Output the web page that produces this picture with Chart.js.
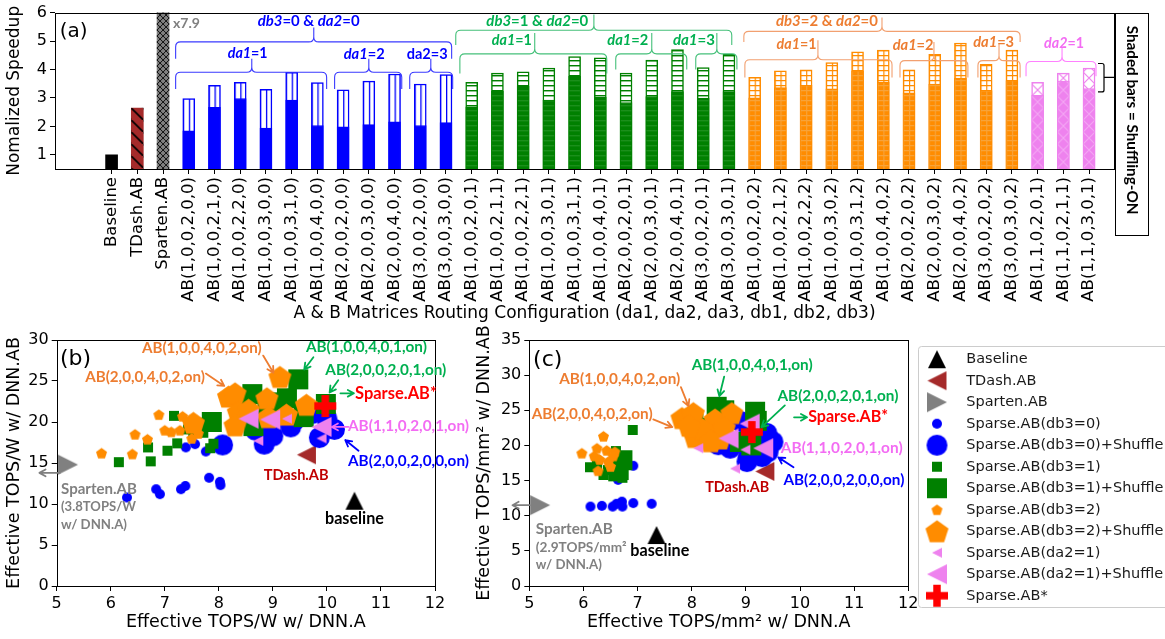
<!DOCTYPE html>
<html>
<head>
<meta charset="utf-8">
<title>Sparse.AB speedup and efficiency</title>
<script src="https://cdn.jsdelivr.net/npm/chart.js@4.4.1/dist/chart.umd.min.js"></script>
<style>
  html, body { margin:0; padding:0; background:#ffffff; width:1165px; height:639px; overflow:hidden; position:relative; }
  canvas { position:absolute; display:block; }
</style>
</head>
<body>
<canvas id="chartA" width="1165" height="330" style="left:0px;top:0px;width:1165px;height:330px;"></canvas>
<canvas id="chartB" width="470" height="319" style="left:0px;top:320px;width:470px;height:319px;"></canvas>
<canvas id="chartC" width="455" height="319" style="left:470px;top:320px;width:455px;height:319px;"></canvas>
<canvas id="chartL" width="300" height="275" style="left:908px;top:340px;width:300px;height:275px;"></canvas>
<script>
// ================= DATA: (a) normalized speedup =================
const refNames = ['Baseline', 'TDash.AB', 'Sparten.AB'];
const refSpeedup = [1.0, 2.64, 7.9];

const configNames = [
  'AB(1,0,0,2,0,0)','AB(1,0,0,2,1,0)','AB(1,0,0,2,2,0)','AB(1,0,0,3,0,0)','AB(1,0,0,3,1,0)','AB(1,0,0,4,0,0)',
  'AB(2,0,0,2,0,0)','AB(2,0,0,3,0,0)','AB(2,0,0,4,0,0)','AB(3,0,0,2,0,0)','AB(3,0,0,3,0,0)',
  'AB(1,0,0,2,0,1)','AB(1,0,0,2,1,1)','AB(1,0,0,2,2,1)','AB(1,0,0,3,0,1)','AB(1,0,0,3,1,1)','AB(1,0,0,4,0,1)',
  'AB(2,0,0,2,0,1)','AB(2,0,0,3,0,1)','AB(2,0,0,4,0,1)','AB(3,0,0,2,0,1)','AB(3,0,0,3,0,1)',
  'AB(1,0,0,2,0,2)','AB(1,0,0,2,1,2)','AB(1,0,0,2,2,2)','AB(1,0,0,3,0,2)','AB(1,0,0,3,1,2)','AB(1,0,0,4,0,2)',
  'AB(2,0,0,2,0,2)','AB(2,0,0,3,0,2)','AB(2,0,0,4,0,2)','AB(3,0,0,2,0,2)','AB(3,0,0,3,0,2)',
  'AB(1,1,0,2,0,1)','AB(1,1,0,2,1,1)','AB(1,1,0,3,0,1)'
];
const configGroup = [
  'db3=0','db3=0','db3=0','db3=0','db3=0','db3=0','db3=0','db3=0','db3=0','db3=0','db3=0',
  'db3=1','db3=1','db3=1','db3=1','db3=1','db3=1','db3=1','db3=1','db3=1','db3=1','db3=1',
  'db3=2','db3=2','db3=2','db3=2','db3=2','db3=2','db3=2','db3=2','db3=2','db3=2','db3=2',
  'da2=1','da2=1','da2=1'
];
const speedupNoShuffle = [
  1.84, 2.67, 2.98, 1.94, 2.92, 2.03, 1.98, 2.06, 2.16, 2.03, 2.13,
  2.69, 3.24, 3.41, 2.92, 3.76, 3.03, 2.84, 3.05, 3.22, 2.99, 3.22,
  3.00, 3.36, 3.44, 3.32, 3.95, 3.55, 3.18, 3.49, 3.70, 3.26, 3.61,
  3.09, 3.59, 3.33
];
const speedupShuffle = [
  2.98, 3.44, 3.55, 3.30, 3.90, 3.54, 3.28, 3.59, 3.84, 3.49, 3.82,
  3.55, 3.87, 3.92, 4.05, 4.45, 4.41, 3.87, 4.33, 4.70, 4.07, 4.53,
  3.72, 3.95, 3.99, 4.24, 4.62, 4.68, 3.99, 4.53, 4.93, 4.18, 4.68,
  3.55, 3.87, 4.05
];
const speedupTicks = [1, 2, 3, 4, 5, 6];

// ================= DATA: (b) TOPS/W, (c) TOPS/mm2 =================
const legendLabels = [
  'Baseline', 'TDash.AB', 'Sparten.AB',
  'Sparse.AB(db3=0)', 'Sparse.AB(db3=0)+Shuffle',
  'Sparse.AB(db3=1)', 'Sparse.AB(db3=1)+Shuffle',
  'Sparse.AB(db3=2)', 'Sparse.AB(db3=2)+Shuffle',
  'Sparse.AB(da2=1)', 'Sparse.AB(da2=1)+Shuffle',
  'Sparse.AB*'
];

const baselineB = [[10.51, 10.4]];
const tdashB = [[9.62, 16.0]];
const spartenB = [[5.21, 14.8]];
const db3_0_B = [[6.30,10.8],[6.84,11.8],[6.91,11.2],[7.30,11.8],[7.38,12.2],[7.82,13.2],[8.02,12.7],[8.03,12.3],[7.39,16.9],[7.56,17.3],[7.76,16.4]];
const db3_0_shuf_B = [[8.07,17.2],[8.68,19.0],[8.84,17.3],[9.00,18.3],[8.95,19.6],[9.33,19.4],[9.40,20.2],[9.72,21.0],[9.86,18.1],[10.14,19.1],[10.0,20.4]];
const db3_1_B = [[6.15,15.1],[6.74,15.2],[6.69,16.9],[7.05,16.5],[7.23,17.4],[7.17,20.75],[7.84,16.8],[7.90,17.35],[7.43,19.1],[8.70,20.6],[9.50,21.3]];
const db3_1_shuf_B = [[7.87,20.0],[7.62,19.3],[8.64,19.5],[8.62,23.4],[8.50,22.3],[9.13,21.1],[9.26,22.9],[9.47,25.2],[9.57,20.6],[9.98,22.2],[8.90,22.4]];
const db3_2_B = [[5.83,16.2],[6.40,16.1],[6.45,18.5],[6.68,17.9],[6.89,20.9],[7.00,19.0],[7.12,18.8],[7.28,19.0],[7.33,20.7],[7.50,18.0],[7.62,18.6]];
const db3_2_shuf_B = [[7.53,19.9],[8.18,23.1],[8.30,23.5],[8.36,21.2],[8.30,19.6],[8.55,21.5],[8.89,22.9],[9.13,25.5],[9.25,20.9],[9.62,22.1],[8.92,20.6]];
const da2_1_B = [[8.73,17.7],[9.90,18.0],[9.26,20.4]];
const da2_1_shuf_B = [[8.55,20.4],[8.95,20.3],[9.90,19.4]];
const sparseStarB = [[9.97,21.95]];

const baselineC = [[7.35, 7.25]];
const tdashC = [[9.35, 16.3]];
const spartenC = [[5.20, 11.5]];
const db3_0_C = [[6.13,11.3],[6.34,11.4],[6.54,11.3],[6.61,11.7],[6.71,12.0],[6.72,11.3],[6.92,11.8],[7.26,11.7],[6.92,17.1],[6.64,15.1],[6.71,16.5]];
const db3_0_shuf_C = [[9.02,17.7],[9.05,18.5],[8.71,19.6],[8.49,20.1],[9.41,19.1],[9.20,20.8],[9.39,21.7],[8.90,23.4],[9.30,18.4],[8.62,21.0],[9.50,20.5]];
const db3_1_C = [[6.91,22.2],[6.12,16.9],[6.37,15.8],[6.55,15.6],[6.68,17.4],[6.71,18.2],[6.45,16.5],[6.62,16.0],[6.72,15.4],[6.25,17.2],[6.60,19.2]];
const db3_1_shuf_C = [[8.46,25.5],[8.60,25.0],[9.17,24.8],[8.03,23.1],[8.20,22.5],[8.89,20.5],[9.10,20.0],[8.30,21.8],[9.20,23.5],[6.72,17.9],[6.65,16.5]];
const db3_2_C = [[5.97,18.9],[6.37,21.3],[6.25,19.6],[6.43,19.3],[6.58,19.1],[6.46,17.7],[6.27,16.4],[6.55,18.5],[6.50,17.0],[6.20,18.5],[6.30,18.0]];
const db3_2_shuf_C = [[7.82,23.9],[8.03,24.6],[8.43,23.7],[8.74,24.6],[8.06,21.2],[8.28,21.7],[8.52,21.0],[8.20,22.3],[7.95,22.8],[8.60,22.5],[8.35,20.6]];
const da2_1_C = [[8.12,19.6],[8.80,16.7],[8.99,19.4]];
const da2_1_shuf_C = [[8.68,21.0],[9.07,23.1],[9.32,19.6]];
const sparseStarC = [[9.11,21.9]];

const seriesB = [baselineB, tdashB, spartenB, db3_0_B, db3_0_shuf_B, db3_1_B, db3_1_shuf_B, db3_2_B, db3_2_shuf_B, da2_1_B, da2_1_shuf_B, sparseStarB];
const seriesC = [baselineC, tdashC, spartenC, db3_0_C, db3_0_shuf_C, db3_1_C, db3_1_shuf_C, db3_2_C, db3_2_shuf_C, da2_1_C, da2_1_shuf_C, sparseStarC];

// ================= STYLES =================
Chart.defaults.font.family = "'DejaVu Sans', sans-serif";
Chart.defaults.color = '#000';
Chart.defaults.animation = false;

const BLUE = '#0000ff', GREEN = '#008000', ORANGE = '#ff8c00', VIOLET = '#ee82ee';
const T_GREEN = '#00b050', T_ORANGE = '#ed7d31', T_PINK = '#f36cf3', T_RED = '#ff0000', T_DRED = '#c00000', T_GRAY = '#808080';
const groupColor = {'db3=0': BLUE, 'db3=1': GREEN, 'db3=2': ORANGE, 'da2=1': VIOLET};
const BAR_W = 12;

function makeTile(type, fg, bg) {
  const dims = {plain:[4,4], vline:[6,6], hline:[6,5], grid:[6,5], diamond:[12,12], diag:[12,12], xhatch:[6,6]};
  const [w, h] = dims[type];
  const c = document.createElement('canvas'); c.width = w; c.height = h;
  const g = c.getContext('2d');
  g.fillStyle = bg; g.fillRect(0, 0, w, h);
  g.fillStyle = fg; g.strokeStyle = fg;
  if (type === 'vline') g.fillRect(0, 0, 1.3, h);
  if (type === 'hline') g.fillRect(0, 0, w, 1.4);
  if (type === 'grid') { g.fillRect(0, 0, 1.2, h); g.fillRect(0, 0, w, 1.2); }
  if (type === 'diamond' || type === 'xhatch') {
    g.lineWidth = type === 'diamond' ? 1.2 : 1;
    g.beginPath(); g.moveTo(-1, -1); g.lineTo(w + 1, h + 1); g.moveTo(w + 1, -1); g.lineTo(-1, h + 1); g.stroke();
  }
  if (type === 'diag') {
    g.lineWidth = 1.6;
    g.beginPath(); g.moveTo(-1, -1); g.lineTo(w + 1, h + 1); g.stroke();
  }
  return c;
}
const tilesOn = {
  'db3=0': makeTile('vline', BLUE, '#ffffff'),
  'db3=1': makeTile('hline', GREEN, '#ffffff'),
  'db3=2': makeTile('grid', ORANGE, '#ffffff'),
  'da2=1': makeTile('diamond', VIOLET, '#ffffff')
};
const tilesOff = {
  'db3=0': makeTile('plain', BLUE, BLUE),
  'db3=1': makeTile('hline', '#1b8f1b', GREEN),
  'db3=2': makeTile('grid', '#f7a33a', ORANGE),
  'da2=1': makeTile('diamond', '#f4a6f4', VIOLET)
};
const tilesRef = [makeTile('plain', '#000', '#000'), makeTile('diag', '#000', '#a52a2a'), makeTile('xhatch', '#111', '#808080')];

function alignedPattern(c, tileCanvas) {
  const xs = c.chart.scales.x;
  const left = xs.getPixelForValue(c.raw.x) - BAR_W / 2;
  const p = c.chart.ctx.createPattern(tileCanvas, 'repeat');
  if (p && p.setTransform) p.setTransform(new DOMMatrix([1, 0, 0, 1, left, 0]));
  return p;
}
const fillFor = (tiles) => (c) => (c.type !== 'data' ? '#fff' : alignedPattern(c, tiles[configGroup[c.dataIndex]]));
const borderFor = (c) => (c.dataIndex === undefined ? '#000' : groupColor[configGroup[c.dataIndex]]);

// ---------- text helper ----------
function drawRich(ctx, t, px, py) {
  const segs = t.segs || [[t.t, 0]];
  const fam = t.fam || 'Lato';
  const weight = t.weight || 'bold';
  const fontOf = (it, s) => `${it ? 'italic ' : ''}${weight} ${s}px ${fam}, sans-serif`;
  let size = t.size || 20;
  if (t.w) {
    let w = 0;
    segs.forEach(s => { ctx.font = fontOf(s[1], 20); w += ctx.measureText(s[0]).width; });
    size = 20 * t.w / w;
  }
  let total = 0;
  segs.forEach(s => { ctx.font = fontOf(s[1], size); total += ctx.measureText(s[0]).width; });
  let cx = t.align === 'left' ? px : px - total / 2;
  ctx.fillStyle = t.c; ctx.textBaseline = 'middle'; ctx.textAlign = 'left';
  segs.forEach(s => { ctx.font = fontOf(s[1], size); ctx.fillText(s[0], cx, py); cx += ctx.measureText(s[0]).width; });
}
function drawArrow(ctx, x0, y0, x1, y1, c) {
  const a = Math.atan2(y1 - y0, x1 - x0), h = 7;
  ctx.strokeStyle = c; ctx.lineWidth = 1.8; ctx.lineCap = 'round'; ctx.lineJoin = 'round';
  ctx.beginPath(); ctx.moveTo(x0, y0); ctx.lineTo(x1, y1);
  ctx.moveTo(x1 - h * Math.cos(a - 0.5), y1 - h * Math.sin(a - 0.5));
  ctx.lineTo(x1, y1);
  ctx.lineTo(x1 - h * Math.cos(a + 0.5), y1 - h * Math.sin(a + 0.5));
  ctx.stroke();
}

const framePlugin = {
  id: 'frame',
  afterDatasetsDraw(chart) {
    const {ctx, chartArea: {left, top, right, bottom}} = chart;
    ctx.save();
    ctx.strokeStyle = '#000'; ctx.lineWidth = 1;
    ctx.strokeRect(Math.round(left) + 0.5, Math.round(top) + 0.5, Math.round(right - left), Math.round(bottom - top));
    ctx.restore();
  }
};

// ================= (a) annotations (data units) =================
const bracesA = [
  {x0: 2.49, x1: 13.22, xm: 7.86, yl: 4.97, ye: 4.38, yt: 5.48, c: '#3a3aff'},
  {x0: 2.49, x1: 8.36, xm: 5.45, yl: 3.90, ye: 3.31, yt: 4.38, c: '#3a3aff'},
  {x0: 8.67, x1: 11.28, xm: 10.0, yl: 3.90, ye: 3.31, yt: 4.38, c: '#3a3aff'},
  {x0: 11.59, x1: 13.26, xm: 12.41, yl: 3.90, ye: 3.31, yt: 4.38, c: '#3a3aff'},
  {x0: 13.38, x1: 24.11, xm: 18.75, yl: 5.38, ye: 4.86, yt: 5.93, c: '#45c07a'},
  {x0: 13.54, x1: 19.25, xm: 16.45, yl: 4.55, ye: 3.86, yt: 5.28, c: '#45c07a'},
  {x0: 19.6, x1: 22.36, xm: 21.0, yl: 4.55, ye: 4.0, yt: 5.28, c: '#45c07a'},
  {x0: 22.71, x1: 24.31, xm: 23.53, yl: 4.55, ye: 4.0, yt: 5.28, c: '#45c07a'},
  {x0: 24.58, x1: 35.32, xm: 29.95, yl: 5.34, ye: 4.97, yt: 5.83, c: '#f2a070'},
  {x0: 24.62, x1: 30.34, xm: 27.46, yl: 4.34, ye: 3.72, yt: 5.03, c: '#f2a070'},
  {x0: 30.65, x1: 33.29, xm: 31.97, yl: 4.31, ye: 3.72, yt: 4.97, c: '#f2a070'},
  {x0: 33.68, x1: 35.32, xm: 34.5, yl: 4.31, ye: 3.72, yt: 4.90, c: '#f2a070'},
  {x0: 35.55, x1: 38.27, xm: 36.95, yl: 4.28, ye: 3.76, yt: 4.79, c: '#ff80ff'}
];
const labelsA = [
  {segs: [['db3', 1], ['=0 & ', 0], ['da2', 1], ['=0', 0]], x: 7.66, y: 5.69, w: 102, c: BLUE},
  {segs: [['da1', 1], ['=1', 0]], x: 5.29, y: 4.55, w: 40, c: BLUE},
  {segs: [['da1', 1], ['=2', 0]], x: 9.82, y: 4.55, w: 41, c: BLUE},
  {segs: [['da2=3', 0]], x: 12.27, y: 4.55, w: 41, c: BLUE},
  {segs: [['db3', 1], ['=1 & ', 0], ['da2', 1], ['=0', 0]], x: 16.55, y: 5.69, w: 102, c: T_GREEN},
  {segs: [['da1', 1], ['=1', 0]], x: 15.56, y: 5.03, w: 40, c: T_GREEN},
  {segs: [['da1', 1], ['=2', 0]], x: 20.07, y: 5.03, w: 41, c: T_GREEN},
  {segs: [['da1', 1], ['=3', 0]], x: 22.64, y: 5.03, w: 42, c: T_GREEN},
  {segs: [['db3', 1], ['=2 & ', 0], ['da2', 1], ['=0', 0]], x: 27.81, y: 5.69, w: 102, c: T_ORANGE},
  {segs: [['da1', 1], ['=1', 0]], x: 26.63, y: 4.87, w: 40, c: T_ORANGE},
  {segs: [['da1', 1], ['=2', 0]], x: 31.16, y: 4.86, w: 41, c: T_ORANGE},
  {segs: [['da1', 1], ['=3', 0]], x: 34.29, y: 4.97, w: 41, c: T_ORANGE},
  {segs: [['da2', 1], ['=1', 0]], x: 37.03, y: 4.91, w: 40, c: T_PINK},
  {segs: [['x7.9', 0]], x: 2.91, y: 5.62, w: 27, c: T_GRAY},
  {segs: [['(a)', 0]], x: -2.02, y: 5.33, size: 20, fam: "'DejaVu Sans'", weight: 'normal', align: 'left', c: '#000'}
];

const annotA = {
  id: 'annotA',
  afterDatasetsDraw(chart) {
    const {ctx, chartArea: {right, top}, scales: {x, y}} = chart;
    ctx.save();
    ctx.lineWidth = 1.1;
    bracesA.forEach(b => {
      const X0 = x.getPixelForValue(b.x0), X1 = x.getPixelForValue(b.x1), XM = x.getPixelForValue(b.xm);
      const YL = y.getPixelForValue(b.yl), YE = y.getPixelForValue(b.ye), YT = y.getPixelForValue(b.yt);
      const r = 5;
      ctx.strokeStyle = b.c;
      ctx.beginPath();
      ctx.moveTo(X0, YE); ctx.lineTo(X0, YL + r); ctx.quadraticCurveTo(X0, YL, X0 + r, YL);
      ctx.lineTo(XM - r, YL); ctx.quadraticCurveTo(XM, YL, XM, YL - r); ctx.lineTo(XM, YT);
      ctx.moveTo(X1, YE); ctx.lineTo(X1, YL + r); ctx.quadraticCurveTo(X1, YL, X1 - r, YL);
      ctx.lineTo(XM + r, YL); ctx.quadraticCurveTo(XM, YL, XM, YL - r);
      ctx.stroke();
    });
    labelsA.forEach(t => drawRich(ctx, t, x.getPixelForValue(t.x), y.getPixelForValue(t.y)));

    // black brace pointing to the shaded-bar box
    const yT = y.getPixelForValue(4.21), yB = y.getPixelForValue(3.21), yM = y.getPixelForValue(3.72);
    const xa = right - 16, xb = right - 10;
    ctx.strokeStyle = '#000'; ctx.lineWidth = 1.2;
    ctx.beginPath();
    ctx.moveTo(xa, yT); ctx.lineTo(xb - 2, yT); ctx.quadraticCurveTo(xb, yT, xb, yT + 2);
    ctx.lineTo(xb, yB - 2); ctx.quadraticCurveTo(xb, yB, xb - 2, yB); ctx.lineTo(xa, yB);
    ctx.moveTo(xb, yM); ctx.lineTo(right + 1, yM);
    ctx.stroke();
    ctx.lineWidth = 1;
    ctx.strokeRect(Math.round(right) + 1.5, Math.round(top) + 0.5, 33, 222);
    ctx.translate(Math.round(right) + 18, top + 107.5);
    ctx.rotate(Math.PI / 2);
    drawRich(ctx, {t: 'Shaded bars = Shuffling-ON', w: 189, c: '#000'}, 0, 0);
    ctx.restore();
  }
};

const allNames = refNames.concat(configNames);
new Chart(document.getElementById('chartA'), {
  type: 'bar',
  data: {
    datasets: [
      {
        label: 'Shuffling-OFF',
        data: speedupNoShuffle.map((v, i) => ({x: i + refNames.length, y: v})),
        backgroundColor: fillFor(tilesOff), borderColor: borderFor, borderWidth: 1,
        grouped: false, barThickness: BAR_W
      },
      {
        label: 'Shuffling-ON',
        data: speedupShuffle.map((v, i) => ({x: i + refNames.length, y: v})),
        backgroundColor: fillFor(tilesOn), borderColor: borderFor, borderWidth: 1.5,
        grouped: false, barThickness: BAR_W
      },
      {
        label: 'Reference',
        data: refSpeedup.map((v, i) => ({x: i, y: v})),
        backgroundColor: (c) => (c.type !== 'data' ? '#000' : alignedPattern(c, tilesRef[c.dataIndex])),
        borderWidth: 0, grouped: false, barThickness: BAR_W
      }
    ]
  },
  options: {
    responsive: false, animation: false, events: [],
    layout: {autoPadding: false, padding: {top: 10, right: 51, left: 0, bottom: 2}},
    plugins: {legend: {display: false}, tooltip: {enabled: false}},
    scales: {
      x: {
        type: 'linear', min: -2.2, max: 38.97, offset: false,
        afterBuildTicks: (s) => { s.ticks = allNames.map((_, i) => ({value: i})); },
        afterFit: (s) => { s.height = 159; },
        ticks: {autoSkip: false, minRotation: 90, maxRotation: 90, padding: 3, color: '#000', font: {size: 16.5},
                callback: (v) => allNames[v]},
        grid: {display: true, offset: false, drawOnChartArea: false, drawTicks: true, tickLength: 5, color: '#000', tickColor: '#000'},
        border: {display: false},
        title: {display: true, text: 'A & B Matrices Routing Configuration (da1, da2, da3, db1, db2, db3)',
                color: '#000', font: {size: 17}, padding: {top: 2, bottom: 4}}
      },
      y: {
        type: 'linear', min: 0.5, max: 6,
        afterBuildTicks: (s) => { s.ticks = speedupTicks.map(v => ({value: v})); },
        afterFit: (s) => { s.width = 55; },
        ticks: {color: '#000', font: {size: 16}, padding: 3},
        grid: {display: true, drawOnChartArea: false, drawTicks: true, tickLength: 5, color: '#000', tickColor: '#000'},
        border: {display: false},
        title: {display: true, text: 'Nomalized Speedup', color: '#000', font: {size: 17}, padding: {top: 4, bottom: 2}}
      }
    }
  },
  plugins: [framePlugin, annotA]
});

// ================= markers =================
function makeMarker(shape, size, color) {
  const pad = 2, n = Math.ceil(size) + 2 * pad;
  const c = document.createElement('canvas'); c.width = n; c.height = n;
  const g = c.getContext('2d');
  g.translate(n / 2, n / 2); g.fillStyle = color; g.beginPath();
  const r = size / 2;
  if (shape === 'circle') g.arc(0, 0, r, 0, Math.PI * 2);
  else if (shape === 'square') g.rect(-r, -r, size, size);
  else if (shape === 'pentagon') {
    const R = size / 1.9;
    for (let k = 0; k < 5; k++) {
      const a = -Math.PI / 2 + k * 2 * Math.PI / 5;
      const px = R * Math.cos(a), py = R * Math.sin(a) + R * 0.09;
      if (k) g.lineTo(px, py); else g.moveTo(px, py);
    }
    g.closePath();
  }
  else if (shape === 'triUp') { g.moveTo(0, -r); g.lineTo(r, r); g.lineTo(-r, r); g.closePath(); }
  else if (shape === 'triLeft') { g.moveTo(-r, 0); g.lineTo(r, -r); g.lineTo(r, r); g.closePath(); }
  else if (shape === 'triRight') { g.moveTo(r, 0); g.lineTo(-r, -r); g.lineTo(-r, r); g.closePath(); }
  else if (shape === 'plus') { const t = size * 0.17; g.rect(-t, -r, 2 * t, size); g.rect(-r, -t, size, 2 * t); }
  g.fill();
  return c;
}
const markerDefs = [
  ['triUp', 18, '#000000'], ['triLeft', 19, '#a52a2a'], ['triRight', 20, '#808080'],
  ['circle', 10, BLUE], ['circle', 21, BLUE],
  ['square', 10, GREEN], ['square', 20, GREEN],
  ['pentagon', 11, ORANGE], ['pentagon', 23, ORANGE],
  ['triLeft', 10, VIOLET], ['triLeft', 20, VIOLET],
  ['plus', 22, '#ff0000']
];
const markerImgs = markerDefs.map(d => makeMarker(d[0], d[1], d[2]));

// ================= scatter annotations (data units) =================
const notesB = {
  texts: [
    {t: '(b)', x: 5.06, y: 27.7, align: 'left', size: 22, fam: "'DejaVu Sans'", weight: 'normal', c: '#000'},
    {t: 'AB(1,0,0,4,0,2,on)', x: 7.685, y: 29.0, w: 120, c: T_ORANGE},
    {t: 'AB(2,0,0,4,0,2,on)', x: 6.635, y: 25.5, w: 120, c: T_ORANGE},
    {t: 'AB(1,0,0,4,0,1,on)', x: 10.73, y: 29.1, w: 121, c: T_GREEN},
    {t: 'AB(2,0,0,2,0,1,on)', x: 11.09, y: 26.3, w: 121, c: T_GREEN},
    {t: 'Sparse.AB*', x: 10.52, y: 23.5, w: 82, align: 'left', c: T_RED},
    {t: 'AB(1,1,0,2,0,1,on)', x: 10.39, y: 19.5, w: 121, align: 'left', c: T_PINK},
    {t: 'AB(2,0,0,2,0,0,on)', x: 10.39, y: 15.2, w: 121, align: 'left', c: BLUE},
    {t: 'TDash.AB', x: 9.43, y: 13.5, w: 65, c: T_DRED},
    {t: 'baseline', x: 10.51, y: 8.17, w: 59, c: '#000'},
    {t: 'Sparten.AB', x: 5.08, y: 11.8, w: 76, align: 'left', c: T_GRAY},
    {t: '(3.8TOPS/W', x: 5.08, y: 9.6, w: 75, align: 'left', c: T_GRAY},
    {t: 'w/ DNN.A)', x: 5.08, y: 7.44, w: 66, align: 'left', c: T_GRAY}
  ],
  arrows: [
    {x0: 8.82, y0: 28.1, x1: 9.01, y1: 26.0, c: T_ORANGE},
    {x0: 7.76, y0: 25.9, x1: 8.10, y1: 24.4, c: T_ORANGE},
    {x0: 9.75, y0: 27.9, x1: 9.58, y1: 26.4, c: T_GREEN},
    {x0: 10.21, y0: 25.1, x1: 10.05, y1: 23.6, c: T_GREEN},
    {x0: 10.25, y0: 23.5, x1: 10.50, y1: 23.5, c: T_GREEN},
    {x0: 10.40, y0: 19.4, x1: 10.09, y1: 19.4, c: T_PINK},
    {x0: 10.585, y0: 16.5, x1: 10.34, y1: 17.8, c: BLUE},
    {x0: 5.06, y0: 13.8, x1: 4.68, y1: 13.8, c: T_GRAY}
  ]
};
const notesC = {
  texts: [
    {t: '(c)', x: 5.07, y: 32.1, align: 'left', size: 22, fam: "'DejaVu Sans'", weight: 'normal', c: '#000'},
    {t: 'AB(1,0,0,4,0,1,on)', x: 9.117, y: 31.4, w: 121, c: T_GREEN},
    {t: 'AB(1,0,0,4,0,2,on)', x: 6.67, y: 29.5, w: 121, c: T_ORANGE},
    {t: 'AB(2,0,0,4,0,2,on)', x: 6.16, y: 24.5, w: 121, c: T_ORANGE},
    {t: 'AB(2,0,0,2,0,1,on)', x: 10.70, y: 27.0, w: 121, c: T_GREEN},
    {t: 'Sparse.AB*', x: 10.15, y: 24.0, w: 80, align: 'left', c: T_RED},
    {t: 'AB(1,1,0,2,0,1,on)', x: 10.77, y: 19.7, w: 122, c: T_PINK},
    {t: 'AB(2,0,0,2,0,0,on)', x: 10.81, y: 15.1, w: 121, c: BLUE},
    {t: 'TDash.AB', x: 8.84, y: 14.1, w: 64, c: T_DRED},
    {t: 'baseline', x: 7.41, y: 5.0, w: 59, c: '#000'},
    {t: 'Sparten.AB', x: 5.12, y: 8.07, w: 77, align: 'left', c: T_GRAY},
    {t: '(2.9TOPS/mm²', x: 5.12, y: 5.5, w: 91, align: 'left', c: T_GRAY},
    {t: 'w/ DNN.A)', x: 5.12, y: 3.0, w: 66, align: 'left', c: T_GRAY}
  ],
  arrows: [
    {x0: 8.60, y0: 29.8, x1: 8.51, y1: 27.0, c: T_GREEN},
    {x0: 7.80, y0: 28.3, x1: 7.94, y1: 25.6, c: T_ORANGE},
    {x0: 7.29, y0: 23.7, x1: 7.64, y1: 22.6, c: T_ORANGE},
    {x0: 9.72, y0: 25.7, x1: 9.29, y1: 22.6, c: T_GREEN},
    {x0: 9.89, y0: 24.0, x1: 10.13, y1: 24.0, c: T_GREEN},
    {x0: 9.88, y0: 16.9, x1: 9.60, y1: 18.3, c: BLUE},
    {x0: 5.01, y0: 11.5, x1: 4.69, y1: 11.5, c: T_GRAY}
  ]
};
function notesPlugin(notes) {
  return {
    id: 'notes',
    afterDatasetsDraw(chart) {
      const {ctx, scales: {x, y}} = chart;
      ctx.save();
      notes.arrows.forEach(a => drawArrow(ctx, x.getPixelForValue(a.x0), y.getPixelForValue(a.y0),
                                          x.getPixelForValue(a.x1), y.getPixelForValue(a.y1), a.c));
      notes.texts.forEach(t => drawRich(ctx, t, x.getPixelForValue(t.x), y.getPixelForValue(t.y)));
      ctx.restore();
    }
  };
}

function scatterChart(id, series, xTitle, yTitle, yMax, yAxisW, padRight, notes) {
  const n = series.length;
  const datasets = series.map((pts, i) => ({
    label: legendLabels[i],
    data: pts.map(p => ({x: p[0], y: p[1]})),
    pointStyle: markerImgs[i],
    backgroundColor: markerDefs[i][2], borderColor: markerDefs[i][2],
    pointRadius: markerDefs[i][1] / 2,
    order: n - 1 - i,
    clip: false,
    showLine: false
  }));
  const axisCommon = {
    grid: {display: true, drawOnChartArea: false, drawTicks: true, tickLength: 5, color: '#000', tickColor: '#000'},
    border: {display: false}
  };
  return new Chart(document.getElementById(id), {
    type: 'scatter',
    data: {datasets},
    options: {
      responsive: false, animation: false, events: [],
      layout: {autoPadding: false, padding: {top: 20, right: padRight, left: 0, bottom: 2}},
      plugins: {legend: {display: false}, tooltip: {enabled: false}},
      scales: {
        x: Object.assign({
          type: 'linear', min: 5, max: 12,
          afterFit: (s) => { s.height = 51; },
          ticks: {stepSize: 1, color: '#000', font: {size: 16}, padding: 3},
          title: {display: true, text: xTitle, color: '#000', font: {size: 17.5}, padding: {top: 2, bottom: 4}}
        }, axisCommon),
        y: Object.assign({
          type: 'linear', min: 0, max: yMax,
          afterFit: (s) => { s.width = yAxisW; },
          ticks: {stepSize: 5, color: '#000', font: {size: 16}, padding: 3},
          title: {display: true, text: yTitle, color: '#000', font: {size: 17.5}, padding: {top: 4, bottom: 2}}
        }, axisCommon)
      }
    },
    plugins: [framePlugin, notesPlugin(notes)]
  });
}

scatterChart('chartB', seriesB, 'Effective TOPS/W w/ DNN.A', 'Effective TOPS/W w/ DNN.AB', 30, 56.7, 35, notesB);
scatterChart('chartC', seriesC, 'Effective TOPS/mm² w/ DNN.A', 'Effective TOPS/mm² w/ DNN.AB', 35, 59.3, 16.7, notesC);

// ================= legend =================
const legendFrame = {
  id: 'legendFrame',
  afterDraw(chart) {
    const ctx = chart.ctx;
    ctx.save();
    ctx.strokeStyle = '#cccccc'; ctx.lineWidth = 1;
    ctx.beginPath();
    if (ctx.roundRect) ctx.roundRect(10.5, 6.5, 320, 261, 3); else ctx.rect(10.5, 6.5, 320, 261);
    ctx.stroke();
    ctx.restore();
  }
};
new Chart(document.getElementById('chartL'), {
  type: 'scatter',
  data: {
    datasets: legendLabels.map((l, i) => ({
      label: l, data: [], pointStyle: markerImgs[i],
      backgroundColor: markerDefs[i][2], borderColor: markerDefs[i][2]
    }))
  },
  options: {
    responsive: false, animation: false, events: [],
    layout: {autoPadding: false, padding: 0},
    scales: {x: {display: false}, y: {display: false}},
    plugins: {
      tooltip: {enabled: false},
      legend: {
        display: true, position: 'left', align: 'center', maxWidth: 300,
        labels: {usePointStyle: true, pointStyleWidth: 44, padding: 7, color: '#1a1a1a',
                 font: {size: 14.5, family: "'DejaVu Sans', sans-serif"}}
      }
    }
  },
  plugins: [legendFrame]
});
</script>
</body>
</html>
